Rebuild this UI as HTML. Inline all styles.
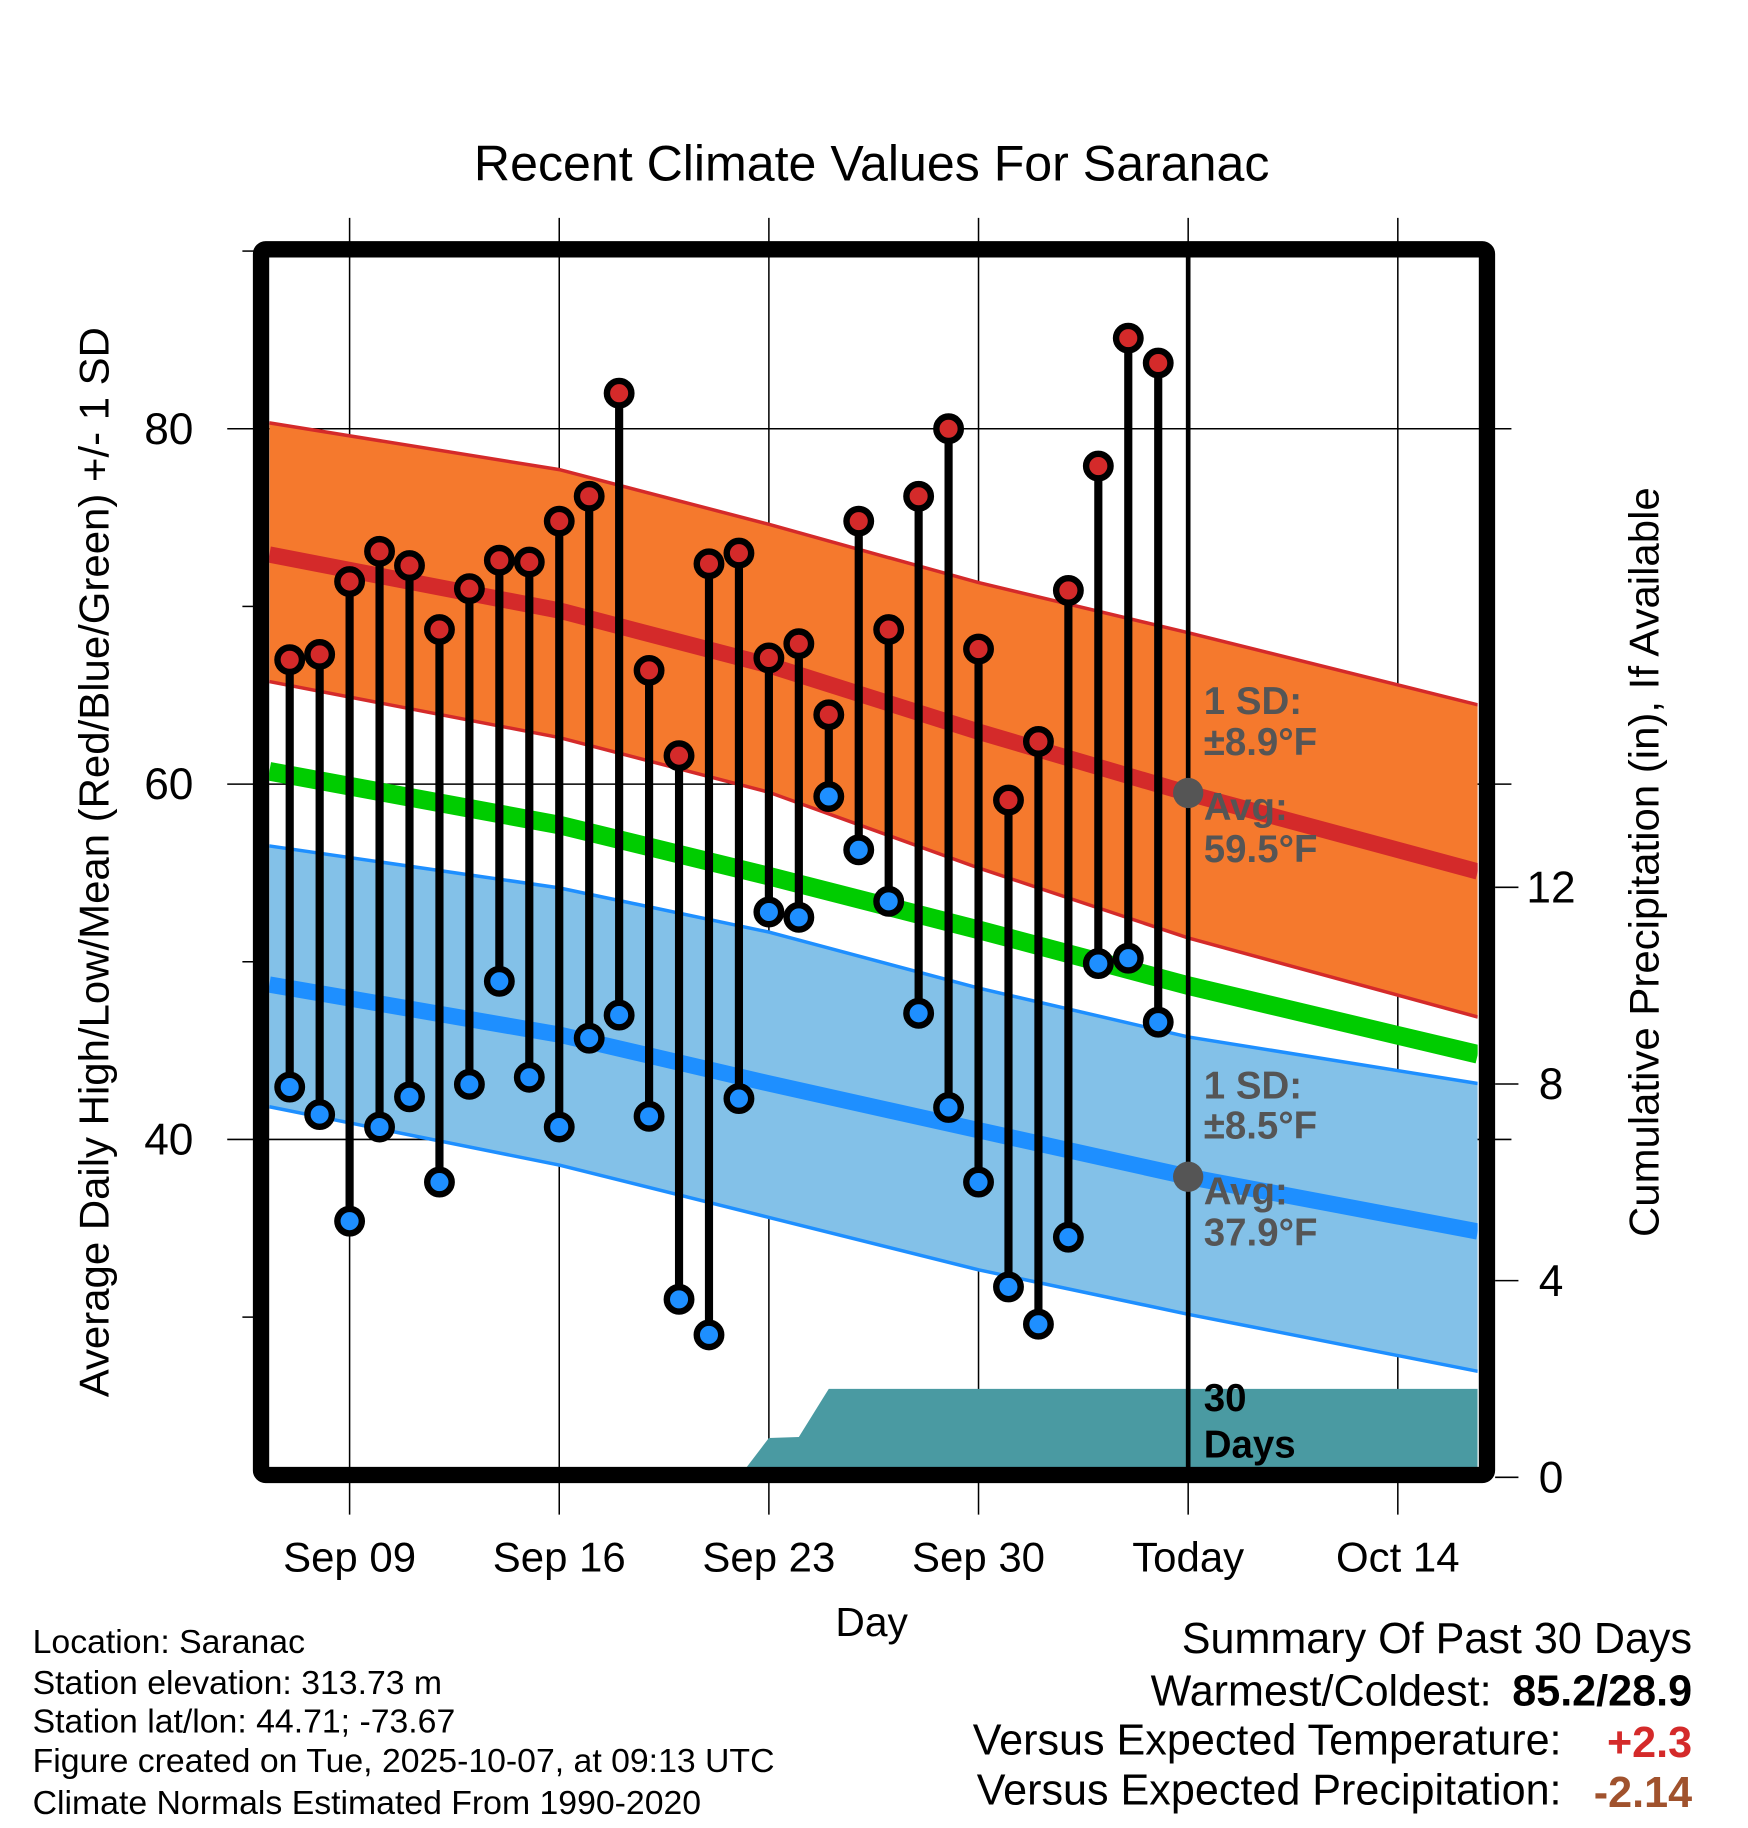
<!DOCTYPE html>
<html><head><meta charset="utf-8"><style>
html,body{margin:0;padding:0;background:#fff;}
svg{display:block;font-family:"Liberation Sans",Arial,sans-serif;}
</style></head><body>
<svg id="chart" width="1748" height="1828" viewBox="0 0 1500 1569" preserveAspectRatio="none" xmlns="http://www.w3.org/2000/svg">
<rect width="1500" height="1569" fill="#fff"/>
<text x="748" y="155" font-size="43" text-anchor="middle">Recent Climate Values For Saranac</text>
<g id="grid"></g>
<g id="plot"></g>
<g id="marks"></g>
<rect x="224" y="214" width="1052" height="1052" fill="none" stroke="#000" stroke-width="14" rx="4"/>
<g id="axes"></g>
<text transform="translate(93,740) rotate(-90)" font-size="36" text-anchor="middle">Average Daily High/Low/Mean (Red/Blue/Green) +/- 1 SD</text>
<text transform="translate(1423,740) rotate(-90)" font-size="36" text-anchor="middle">Cumulative Precipitation (in), If Available</text>
<text x="748" y="1404" font-size="35" text-anchor="middle">Day</text>
<g font-size="29">
<text x="28" y="1419">Location: Saranac</text>
<text x="28" y="1454">Station elevation: 313.73 m</text>
<text x="28" y="1487">Station lat/lon: 44.71; -73.67</text>
<text x="28" y="1521">Figure created on Tue, 2025-10-07, at 09:13 UTC</text>
<text x="28" y="1557">Climate Normals Estimated From 1990-2020</text>
</g>
<g font-size="37">
<text x="1452" y="1419" text-anchor="end">Summary Of Past 30 Days</text>
<text x="1280" y="1464" text-anchor="end">Warmest/Coldest:</text>
<text x="1452" y="1464" text-anchor="end" font-weight="bold">85.2/28.9</text>
<text x="1340" y="1506" text-anchor="end">Versus Expected Temperature:</text>
<text x="1452" y="1508" text-anchor="end" font-weight="bold" fill="#d42a2a">+2.3</text>
<text x="1340" y="1549" text-anchor="end">Versus Expected Precipitation:</text>
<text x="1452" y="1551" text-anchor="end" font-weight="bold" fill="#a0522d">-2.14</text>
</g>
</svg>
<script>
// ---- data ----
const highs = [67.0,67.3,71.4,73.1,72.3,68.7,71.0,72.6,72.5,74.8,76.2,82.0,66.4,61.6,72.4,73.0,67.1,67.9,63.9,74.8,68.7,76.2,80.0,67.6,59.1,62.4,70.9,77.9,85.1,83.7];
const lows = [42.95,41.4,35.4,40.7,42.4,37.6,43.1,48.9,43.5,40.7,45.7,47.0,41.3,31.0,29.0,42.3,52.8,52.5,59.3,56.3,53.4,47.1,41.8,37.6,31.7,29.6,34.5,49.9,50.2,46.6];
const precipCum = [0,0,0,0,0,0,0,0,0,0,0,0,0,0,0,0,0.8,0.82,1.8,1.8,1.8,1.8,1.8,1.8,1.8,1.8,1.8,1.8,1.8,1.8];
const normDays = [-0.68,9,16,23,30,39.67];
const hiUpper = [80.33,77.70,74.62,71.34,68.52,64.46];
const hiMean = [72.92,69.77,66.69,62.95,59.48,55.08];
const hiLower = [65.77,62.62,59.54,55.28,51.34,46.89];
const meanLine = [60.72,57.70,54.82,51.80,48.66,44.79];
const loUpper = [56.52,54.16,51.67,48.52,45.77,43.15];
const loMean = [48.72,45.90,43.15,40.52,37.90,34.82];
const loLower = [41.84,38.56,35.61,32.66,30.16,26.95];
const xTickDays = [2,9,16,23,30,37];
const xTickLabels = ["Sep 09","Sep 16","Sep 23","Sep 30","Today","Oct 14"];
const yTicks = [40,60,80];
const yMinor = [30,50,70,90];
const pTicks = [0,4,8,12];
const todayDay = 30;
const todayHiAvg = 59.5, todayLoAvg = 37.9;

// ---- scales ----
const X = d => 248.6 + d*25.7;
const Y = t => 673 - (t-60)*15.25;
const P = p => 1268 - p*42.2;
const NS = "http://www.w3.org/2000/svg";
function mk(tag, attrs, parent){const e=document.createElementNS(NS,tag);for(const k in attrs)e.setAttribute(k,attrs[k]);parent.appendChild(e);return e;}
const grid=document.getElementById('grid'),plot=document.getElementById('plot'),marks=document.getElementById('marks'),axes=document.getElementById('axes');

xTickDays.forEach((d,i)=>{
  const l=mk('line',{x1:X(d),x2:X(d),y1:187,y2:1300,stroke:'#000','stroke-width':1.3},grid);
  
  
  const t=mk('text',{x:X(d),y:1349,'font-size':36,'text-anchor':'middle'},axes);
  t.textContent=xTickLabels[i];
  
  
});
yTicks.forEach(v=>{
  const l=mk('line',{x1:195,x2:1297,y1:Y(v),y2:Y(v),stroke:'#000','stroke-width':1.3},grid);
  
  
  const t=mk('text',{x:166,y:Y(v)+13,'font-size':38,'text-anchor':'end'},axes);
  t.textContent=v;
  
  
});
yMinor.forEach(v=>{
  const l=mk('line',{x1:208,x2:218,y1:Y(v),y2:Y(v),stroke:'#000','stroke-width':1.3},axes);
  
  
});
pTicks.forEach(v=>{
  const l=mk('line',{x1:1283,x2:1303,y1:P(v),y2:P(v),stroke:'#000','stroke-width':1.3},axes);
  
  
  const t=mk('text',{x:1331,y:P(v)+13,'font-size':38,'text-anchor':'middle'},axes);
  t.textContent=v;
  
  
});

const defs=mk('defs',{},plot);
const cp=mk('clipPath',{id:'clip'},defs);
mk('rect',{x:231,y:221,width:1037,height:1039},cp);
const band=mk('g',{'clip-path':'url(#clip)'},plot);
const line=arr=>normDays.map((d,i)=>X(d)+','+Y(arr[i])).join(' ');
const area=(up,lo)=>line(up)+' '+normDays.map((d,i)=>X(d)+','+Y(lo[i])).reverse().join(' ');

let e;
e=mk('polygon',{points:area(hiUpper,hiLower),fill:'#f5792d'},band);


e=mk('polygon',{points:area(loUpper,loLower),fill:'#83c1e8'},band);


[[hiUpper,'#d42a2a',3,'high-upper-line'],[hiLower,'#d42a2a',3,'high-lower-line'],[hiMean,'#d42a2a',14,'high-mean-line'],[meanLine,'#00cc00',16,'mean-line'],[loUpper,'#1e8fff',3,'low-upper-line'],[loLower,'#1e8fff',3,'low-lower-line'],[loMean,'#1e8fff',14,'low-mean-line']].forEach(s=>{
  const l=mk('polyline',{points:line(s[0]),fill:'none',stroke:s[1],'stroke-width':s[2]},band);
  
  
});
let pts=X(0)+','+P(0)+' ';
precipCum.forEach((p,i)=>{pts+=X(i)+','+P(p)+' ';});
pts+='1268,'+P(precipCum[precipCum.length-1])+' 1268,'+P(0);
e=mk('polygon',{points:pts,fill:'#4a9aa2'},band);



e=mk('line',{x1:X(todayDay),x2:X(todayDay),y1:221,y2:1262,stroke:'#000','stroke-width':4},marks);



highs.forEach((h,i)=>{
  const s=mk('line',{x1:X(i),x2:X(i),y1:Y(h),y2:Y(lows[i]),stroke:'#000','stroke-width':7},marks);
  
  
});
highs.forEach((h,i)=>{
  const c=mk('circle',{cx:X(i),cy:Y(h),r:10.5,fill:'#d42a2a',stroke:'#000','stroke-width':5.5},marks);
  
  
  const c2=mk('circle',{cx:X(i),cy:Y(lows[i]),r:10.5,fill:'#1e8fff',stroke:'#000','stroke-width':5.5},marks);
  
  
});
[todayHiAvg,todayLoAvg].forEach(v=>{
  const c=mk('circle',{cx:X(todayDay),cy:Y(v),r:13,fill:'#555'},marks);
  
  
});
const ann=[['1 SD:',613,'#555','high-sd-label'],['±8.9°F',648,'#555','high-sd-value'],['Avg:',704,'#555','high-avg-label'],['59.5°F',740,'#555','high-avg-value'],
['1 SD:',943,'#555','low-sd-label'],['±8.5°F',977,'#555','low-sd-value'],['Avg:',1034,'#555','low-avg-label'],['37.9°F',1069,'#555','low-avg-value'],
['30',1211,'#000','precip-days-label'],['Days',1251,'#000','precip-days-label']];
ann.forEach(a=>{
  const t=mk('text',{x:1033,y:a[1],'font-size':33,'font-weight':'bold',fill:a[2]},marks);
  t.textContent=a[0];
  
  
});
</script>
</body></html>
